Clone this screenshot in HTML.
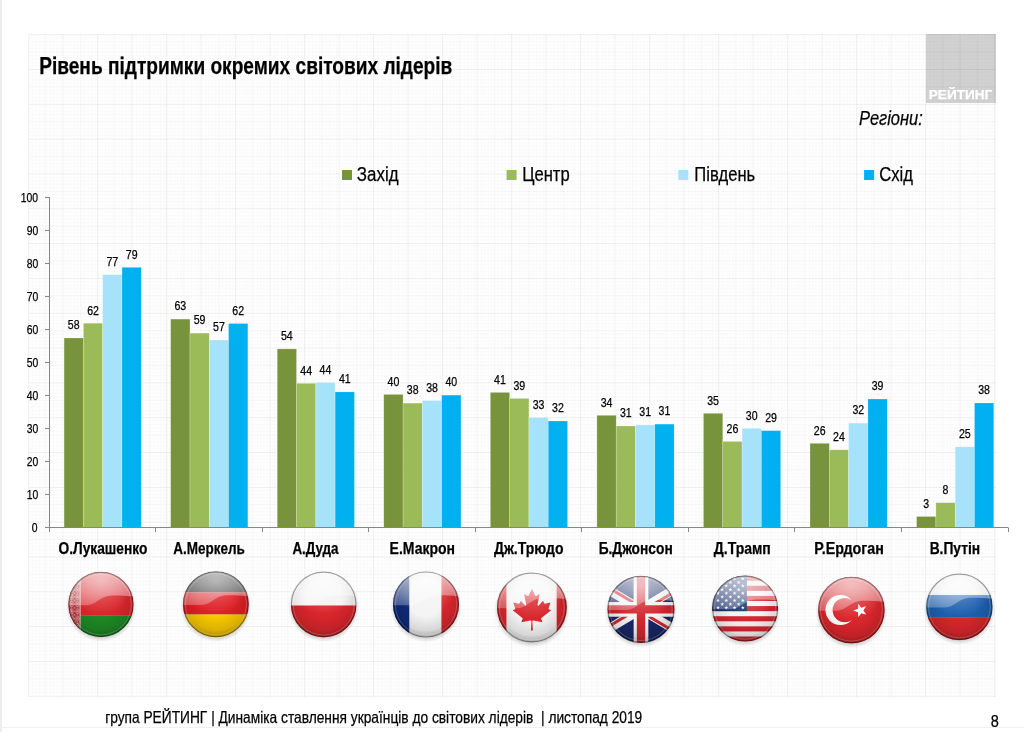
<!DOCTYPE html><html><head><meta charset="utf-8"><style>html,body{margin:0;padding:0;background:#fff;overflow:hidden}svg{display:block;will-change:transform}text{font-family:"Liberation Sans",sans-serif}</style></head><body>
<svg width="1024" height="732" viewBox="0 0 1024 732">
<defs><pattern id="gmin" width="3.45" height="3.482" patternUnits="userSpaceOnUse" x="29" y="34"><path d="M0 0.5H3.45M0.5 0V3.48" stroke="#000" stroke-opacity="0.018" stroke-width="1" fill="none"/></pattern></defs>
<rect x="0" y="0" width="2" height="732" fill="#eeeeee"/>
<rect x="926" y="34" width="70" height="69" fill="#d2d2d2"/>
<rect x="29" y="34" width="967" height="663" fill="url(#gmin)"/>
<path d="M28.50 34V697" stroke="#000" stroke-opacity="0.05"/><path d="M45.75 34V697" stroke="#000" stroke-opacity="0.026"/><path d="M63.00 34V697" stroke="#000" stroke-opacity="0.05"/><path d="M80.25 34V697" stroke="#000" stroke-opacity="0.026"/><path d="M97.50 34V697" stroke="#000" stroke-opacity="0.05"/><path d="M114.75 34V697" stroke="#000" stroke-opacity="0.026"/><path d="M132.00 34V697" stroke="#000" stroke-opacity="0.05"/><path d="M149.25 34V697" stroke="#000" stroke-opacity="0.026"/><path d="M166.50 34V697" stroke="#000" stroke-opacity="0.05"/><path d="M183.75 34V697" stroke="#000" stroke-opacity="0.026"/><path d="M201.00 34V697" stroke="#000" stroke-opacity="0.05"/><path d="M218.25 34V697" stroke="#000" stroke-opacity="0.026"/><path d="M235.50 34V697" stroke="#000" stroke-opacity="0.05"/><path d="M252.75 34V697" stroke="#000" stroke-opacity="0.026"/><path d="M270.00 34V697" stroke="#000" stroke-opacity="0.05"/><path d="M287.25 34V697" stroke="#000" stroke-opacity="0.026"/><path d="M304.50 34V697" stroke="#000" stroke-opacity="0.05"/><path d="M321.75 34V697" stroke="#000" stroke-opacity="0.026"/><path d="M339.00 34V697" stroke="#000" stroke-opacity="0.05"/><path d="M356.25 34V697" stroke="#000" stroke-opacity="0.026"/><path d="M373.50 34V697" stroke="#000" stroke-opacity="0.05"/><path d="M390.75 34V697" stroke="#000" stroke-opacity="0.026"/><path d="M408.00 34V697" stroke="#000" stroke-opacity="0.05"/><path d="M425.25 34V697" stroke="#000" stroke-opacity="0.026"/><path d="M442.50 34V697" stroke="#000" stroke-opacity="0.05"/><path d="M459.75 34V697" stroke="#000" stroke-opacity="0.026"/><path d="M477.00 34V697" stroke="#000" stroke-opacity="0.05"/><path d="M494.25 34V697" stroke="#000" stroke-opacity="0.026"/><path d="M511.50 34V697" stroke="#000" stroke-opacity="0.05"/><path d="M528.75 34V697" stroke="#000" stroke-opacity="0.026"/><path d="M546.00 34V697" stroke="#000" stroke-opacity="0.05"/><path d="M563.25 34V697" stroke="#000" stroke-opacity="0.026"/><path d="M580.50 34V697" stroke="#000" stroke-opacity="0.05"/><path d="M597.75 34V697" stroke="#000" stroke-opacity="0.026"/><path d="M615.00 34V697" stroke="#000" stroke-opacity="0.05"/><path d="M632.25 34V697" stroke="#000" stroke-opacity="0.026"/><path d="M649.50 34V697" stroke="#000" stroke-opacity="0.05"/><path d="M666.75 34V697" stroke="#000" stroke-opacity="0.026"/><path d="M684.00 34V697" stroke="#000" stroke-opacity="0.05"/><path d="M701.25 34V697" stroke="#000" stroke-opacity="0.026"/><path d="M718.50 34V697" stroke="#000" stroke-opacity="0.05"/><path d="M735.75 34V697" stroke="#000" stroke-opacity="0.026"/><path d="M753.00 34V697" stroke="#000" stroke-opacity="0.05"/><path d="M770.25 34V697" stroke="#000" stroke-opacity="0.026"/><path d="M787.50 34V697" stroke="#000" stroke-opacity="0.05"/><path d="M804.75 34V697" stroke="#000" stroke-opacity="0.026"/><path d="M822.00 34V697" stroke="#000" stroke-opacity="0.05"/><path d="M839.25 34V697" stroke="#000" stroke-opacity="0.026"/><path d="M856.50 34V697" stroke="#000" stroke-opacity="0.05"/><path d="M873.75 34V697" stroke="#000" stroke-opacity="0.026"/><path d="M891.00 34V697" stroke="#000" stroke-opacity="0.05"/><path d="M908.25 34V697" stroke="#000" stroke-opacity="0.026"/><path d="M925.50 34V697" stroke="#000" stroke-opacity="0.05"/><path d="M942.75 34V697" stroke="#000" stroke-opacity="0.026"/><path d="M960.00 34V697" stroke="#000" stroke-opacity="0.05"/><path d="M977.25 34V697" stroke="#000" stroke-opacity="0.026"/><path d="M994.50 34V697" stroke="#000" stroke-opacity="0.05"/><path d="M29 34.70H996" stroke="#000" stroke-opacity="0.055"/><path d="M29 52.11H996" stroke="#000" stroke-opacity="0.028"/><path d="M29 69.52H996" stroke="#000" stroke-opacity="0.055"/><path d="M29 86.93H996" stroke="#000" stroke-opacity="0.028"/><path d="M29 104.34H996" stroke="#000" stroke-opacity="0.055"/><path d="M29 121.75H996" stroke="#000" stroke-opacity="0.028"/><path d="M29 139.16H996" stroke="#000" stroke-opacity="0.055"/><path d="M29 156.57H996" stroke="#000" stroke-opacity="0.028"/><path d="M29 173.98H996" stroke="#000" stroke-opacity="0.055"/><path d="M29 191.39H996" stroke="#000" stroke-opacity="0.028"/><path d="M29 208.80H996" stroke="#000" stroke-opacity="0.055"/><path d="M29 226.21H996" stroke="#000" stroke-opacity="0.028"/><path d="M29 243.62H996" stroke="#000" stroke-opacity="0.055"/><path d="M29 261.03H996" stroke="#000" stroke-opacity="0.028"/><path d="M29 278.44H996" stroke="#000" stroke-opacity="0.055"/><path d="M29 295.85H996" stroke="#000" stroke-opacity="0.028"/><path d="M29 313.26H996" stroke="#000" stroke-opacity="0.055"/><path d="M29 330.67H996" stroke="#000" stroke-opacity="0.028"/><path d="M29 348.08H996" stroke="#000" stroke-opacity="0.055"/><path d="M29 365.49H996" stroke="#000" stroke-opacity="0.028"/><path d="M29 382.90H996" stroke="#000" stroke-opacity="0.055"/><path d="M29 400.31H996" stroke="#000" stroke-opacity="0.028"/><path d="M29 417.72H996" stroke="#000" stroke-opacity="0.055"/><path d="M29 435.13H996" stroke="#000" stroke-opacity="0.028"/><path d="M29 452.54H996" stroke="#000" stroke-opacity="0.055"/><path d="M29 469.95H996" stroke="#000" stroke-opacity="0.028"/><path d="M29 487.36H996" stroke="#000" stroke-opacity="0.055"/><path d="M29 504.77H996" stroke="#000" stroke-opacity="0.028"/><path d="M29 522.18H996" stroke="#000" stroke-opacity="0.055"/><path d="M29 539.59H996" stroke="#000" stroke-opacity="0.028"/><path d="M29 557.00H996" stroke="#000" stroke-opacity="0.055"/><path d="M29 574.41H996" stroke="#000" stroke-opacity="0.028"/><path d="M29 591.82H996" stroke="#000" stroke-opacity="0.055"/><path d="M29 609.23H996" stroke="#000" stroke-opacity="0.028"/><path d="M29 626.64H996" stroke="#000" stroke-opacity="0.055"/><path d="M29 644.05H996" stroke="#000" stroke-opacity="0.028"/><path d="M29 661.46H996" stroke="#000" stroke-opacity="0.055"/><path d="M29 678.87H996" stroke="#000" stroke-opacity="0.028"/><path d="M29 696.28H996" stroke="#000" stroke-opacity="0.055"/>
<rect x="342" y="170" width="10" height="10" fill="#77933c"/>
<rect x="506.6" y="170" width="10" height="10" fill="#9bbb59"/>
<rect x="678.3" y="170" width="10" height="10" fill="#a6e3fa"/>
<rect x="864.1" y="170" width="10" height="10" fill="#00b0f0"/>
<path d="M49.5 197V527.5" stroke="#868686" fill="none"/>
<path d="M45 527.5H49.5" stroke="#868686"/>
<path d="M45 494.5H49.5" stroke="#868686"/>
<path d="M45 461.5H49.5" stroke="#868686"/>
<path d="M45 428.5H49.5" stroke="#868686"/>
<path d="M45 395.5H49.5" stroke="#868686"/>
<path d="M45 362.5H49.5" stroke="#868686"/>
<path d="M45 329.5H49.5" stroke="#868686"/>
<path d="M45 296.5H49.5" stroke="#868686"/>
<path d="M45 263.5H49.5" stroke="#868686"/>
<path d="M45 230.5H49.5" stroke="#868686"/>
<path d="M45 197.5H49.5" stroke="#868686"/>
<rect x="64.10" y="338.00" width="19.3" height="189.30" fill="#77933c" stroke="#fff" stroke-opacity="0.35" stroke-width="0.6"/>
<rect x="83.40" y="323.20" width="19.3" height="204.10" fill="#9bbb59" stroke="#fff" stroke-opacity="0.35" stroke-width="0.6"/>
<rect x="102.70" y="274.70" width="19.3" height="252.60" fill="#a6e3fa" stroke="#fff" stroke-opacity="0.35" stroke-width="0.6"/>
<rect x="122.00" y="267.30" width="19.3" height="260.00" fill="#00b0f0" stroke="#fff" stroke-opacity="0.35" stroke-width="0.6"/>
<rect x="170.66" y="319.10" width="19.3" height="208.20" fill="#77933c" stroke="#fff" stroke-opacity="0.35" stroke-width="0.6"/>
<rect x="189.96" y="333.10" width="19.3" height="194.20" fill="#9bbb59" stroke="#fff" stroke-opacity="0.35" stroke-width="0.6"/>
<rect x="209.26" y="340.00" width="19.3" height="187.30" fill="#a6e3fa" stroke="#fff" stroke-opacity="0.35" stroke-width="0.6"/>
<rect x="228.56" y="323.50" width="19.3" height="203.80" fill="#00b0f0" stroke="#fff" stroke-opacity="0.35" stroke-width="0.6"/>
<rect x="277.22" y="348.90" width="19.3" height="178.40" fill="#77933c" stroke="#fff" stroke-opacity="0.35" stroke-width="0.6"/>
<rect x="296.52" y="383.30" width="19.3" height="144.00" fill="#9bbb59" stroke="#fff" stroke-opacity="0.35" stroke-width="0.6"/>
<rect x="315.82" y="382.50" width="19.3" height="144.80" fill="#a6e3fa" stroke="#fff" stroke-opacity="0.35" stroke-width="0.6"/>
<rect x="335.12" y="391.90" width="19.3" height="135.40" fill="#00b0f0" stroke="#fff" stroke-opacity="0.35" stroke-width="0.6"/>
<rect x="383.78" y="394.40" width="19.3" height="132.90" fill="#77933c" stroke="#fff" stroke-opacity="0.35" stroke-width="0.6"/>
<rect x="403.08" y="403.10" width="19.3" height="124.20" fill="#9bbb59" stroke="#fff" stroke-opacity="0.35" stroke-width="0.6"/>
<rect x="422.38" y="400.60" width="19.3" height="126.70" fill="#a6e3fa" stroke="#fff" stroke-opacity="0.35" stroke-width="0.6"/>
<rect x="441.68" y="395.10" width="19.3" height="132.20" fill="#00b0f0" stroke="#fff" stroke-opacity="0.35" stroke-width="0.6"/>
<rect x="490.34" y="392.40" width="19.3" height="134.90" fill="#77933c" stroke="#fff" stroke-opacity="0.35" stroke-width="0.6"/>
<rect x="509.64" y="398.40" width="19.3" height="128.90" fill="#9bbb59" stroke="#fff" stroke-opacity="0.35" stroke-width="0.6"/>
<rect x="528.94" y="417.50" width="19.3" height="109.80" fill="#a6e3fa" stroke="#fff" stroke-opacity="0.35" stroke-width="0.6"/>
<rect x="548.24" y="421.00" width="19.3" height="106.30" fill="#00b0f0" stroke="#fff" stroke-opacity="0.35" stroke-width="0.6"/>
<rect x="596.90" y="415.30" width="19.3" height="112.00" fill="#77933c" stroke="#fff" stroke-opacity="0.35" stroke-width="0.6"/>
<rect x="616.20" y="426.00" width="19.3" height="101.30" fill="#9bbb59" stroke="#fff" stroke-opacity="0.35" stroke-width="0.6"/>
<rect x="635.50" y="425.00" width="19.3" height="102.30" fill="#a6e3fa" stroke="#fff" stroke-opacity="0.35" stroke-width="0.6"/>
<rect x="654.80" y="424.10" width="19.3" height="103.20" fill="#00b0f0" stroke="#fff" stroke-opacity="0.35" stroke-width="0.6"/>
<rect x="703.46" y="413.30" width="19.3" height="114.00" fill="#77933c" stroke="#fff" stroke-opacity="0.35" stroke-width="0.6"/>
<rect x="722.76" y="441.40" width="19.3" height="85.90" fill="#9bbb59" stroke="#fff" stroke-opacity="0.35" stroke-width="0.6"/>
<rect x="742.06" y="428.20" width="19.3" height="99.10" fill="#a6e3fa" stroke="#fff" stroke-opacity="0.35" stroke-width="0.6"/>
<rect x="761.36" y="430.60" width="19.3" height="96.70" fill="#00b0f0" stroke="#fff" stroke-opacity="0.35" stroke-width="0.6"/>
<rect x="810.02" y="443.30" width="19.3" height="84.00" fill="#77933c" stroke="#fff" stroke-opacity="0.35" stroke-width="0.6"/>
<rect x="829.32" y="449.80" width="19.3" height="77.50" fill="#9bbb59" stroke="#fff" stroke-opacity="0.35" stroke-width="0.6"/>
<rect x="848.62" y="423.10" width="19.3" height="104.20" fill="#a6e3fa" stroke="#fff" stroke-opacity="0.35" stroke-width="0.6"/>
<rect x="867.92" y="399.00" width="19.3" height="128.30" fill="#00b0f0" stroke="#fff" stroke-opacity="0.35" stroke-width="0.6"/>
<rect x="916.58" y="516.50" width="19.3" height="10.80" fill="#77933c" stroke="#fff" stroke-opacity="0.35" stroke-width="0.6"/>
<rect x="935.88" y="502.70" width="19.3" height="24.60" fill="#9bbb59" stroke="#fff" stroke-opacity="0.35" stroke-width="0.6"/>
<rect x="955.18" y="446.80" width="19.3" height="80.50" fill="#a6e3fa" stroke="#fff" stroke-opacity="0.35" stroke-width="0.6"/>
<rect x="974.48" y="403.00" width="19.3" height="124.30" fill="#00b0f0" stroke="#fff" stroke-opacity="0.35" stroke-width="0.6"/>
<path d="M49 527.5H1008" stroke="#868686"/>
<path d="M49.5 527.5V532" stroke="#868686"/>
<path d="M155.5 527.5V532" stroke="#868686"/>
<path d="M262.5 527.5V532" stroke="#868686"/>
<path d="M368.5 527.5V532" stroke="#868686"/>
<path d="M475.5 527.5V532" stroke="#868686"/>
<path d="M581.5 527.5V532" stroke="#868686"/>
<path d="M688.5 527.5V532" stroke="#868686"/>
<path d="M794.5 527.5V532" stroke="#868686"/>
<path d="M901.5 527.5V532" stroke="#868686"/>
<path d="M1008.5 527.5V532" stroke="#868686"/>
<text x="39.18" y="73.70" font-size="23.2" font-weight="bold" fill="#000" stroke="#000" stroke-width="0.25" textLength="413.17" lengthAdjust="spacingAndGlyphs" xml:space="preserve">Рівень підтримки окремих світових лідерів</text>
<text x="928.78" y="98.70" font-size="13.4" font-weight="bold" fill="#fff" stroke="#fff" stroke-width="0.25" textLength="63.57" lengthAdjust="spacingAndGlyphs" xml:space="preserve">РЕЙТИНГ</text>
<text x="859.10" y="125.40" font-size="20.2" font-style="italic" fill="#000" stroke="#000" stroke-width="0.25" textLength="63.78" lengthAdjust="spacingAndGlyphs" xml:space="preserve">Регіони:</text>
<text x="356.85" y="181.30" font-size="20" fill="#000" stroke="#000" stroke-width="0.25" textLength="41.72" lengthAdjust="spacingAndGlyphs" xml:space="preserve">Захід</text>
<text x="522.17" y="181.30" font-size="20" fill="#000" stroke="#000" stroke-width="0.25" textLength="47.54" lengthAdjust="spacingAndGlyphs" xml:space="preserve">Центр</text>
<text x="694.37" y="181.30" font-size="20" fill="#000" stroke="#000" stroke-width="0.25" textLength="60.83" lengthAdjust="spacingAndGlyphs" xml:space="preserve">Південь</text>
<text x="879.17" y="181.30" font-size="20" fill="#000" stroke="#000" stroke-width="0.25" textLength="33.77" lengthAdjust="spacingAndGlyphs" xml:space="preserve">Схід</text>
<text x="105.17" y="722.90" font-size="16.5" fill="#000" stroke="#000" stroke-width="0.25" textLength="537.09" lengthAdjust="spacingAndGlyphs" xml:space="preserve">група РЕЙТИНГ | Динаміка ставлення українців до світових лідерів  | листопад 2019</text>
<text x="990.76" y="726.80" font-size="17.3" fill="#000" stroke="#000" stroke-width="0.25" textLength="8.06" lengthAdjust="spacingAndGlyphs" xml:space="preserve">8</text>
<text x="37.51" y="531.50" font-size="12.2" text-anchor="end" fill="#000" stroke="#000" stroke-width="0.25" textLength="5.76" lengthAdjust="spacingAndGlyphs" xml:space="preserve">0</text>
<text x="38.18" y="498.54" font-size="12.2" text-anchor="end" fill="#000" stroke="#000" stroke-width="0.25" textLength="11.53" lengthAdjust="spacingAndGlyphs" xml:space="preserve">10</text>
<text x="38.18" y="465.58" font-size="12.2" text-anchor="end" fill="#000" stroke="#000" stroke-width="0.25" textLength="11.53" lengthAdjust="spacingAndGlyphs" xml:space="preserve">20</text>
<text x="38.18" y="432.62" font-size="12.2" text-anchor="end" fill="#000" stroke="#000" stroke-width="0.25" textLength="11.53" lengthAdjust="spacingAndGlyphs" xml:space="preserve">30</text>
<text x="38.18" y="399.66" font-size="12.2" text-anchor="end" fill="#000" stroke="#000" stroke-width="0.25" textLength="11.53" lengthAdjust="spacingAndGlyphs" xml:space="preserve">40</text>
<text x="38.18" y="366.70" font-size="12.2" text-anchor="end" fill="#000" stroke="#000" stroke-width="0.25" textLength="11.53" lengthAdjust="spacingAndGlyphs" xml:space="preserve">50</text>
<text x="38.18" y="333.74" font-size="12.2" text-anchor="end" fill="#000" stroke="#000" stroke-width="0.25" textLength="11.53" lengthAdjust="spacingAndGlyphs" xml:space="preserve">60</text>
<text x="38.18" y="300.78" font-size="12.2" text-anchor="end" fill="#000" stroke="#000" stroke-width="0.25" textLength="11.53" lengthAdjust="spacingAndGlyphs" xml:space="preserve">70</text>
<text x="38.18" y="267.82" font-size="12.2" text-anchor="end" fill="#000" stroke="#000" stroke-width="0.25" textLength="11.53" lengthAdjust="spacingAndGlyphs" xml:space="preserve">80</text>
<text x="38.18" y="234.86" font-size="12.2" text-anchor="end" fill="#000" stroke="#000" stroke-width="0.25" textLength="11.53" lengthAdjust="spacingAndGlyphs" xml:space="preserve">90</text>
<text x="37.99" y="201.90" font-size="12.2" text-anchor="end" fill="#000" stroke="#000" stroke-width="0.25" textLength="17.29" lengthAdjust="spacingAndGlyphs" xml:space="preserve">100</text>
<text x="73.75" y="329.30" font-size="12.3" text-anchor="middle" fill="#000" stroke="#000" stroke-width="0.25" textLength="11.77" lengthAdjust="spacingAndGlyphs" xml:space="preserve">58</text>
<text x="93.05" y="314.50" font-size="12.3" text-anchor="middle" fill="#000" stroke="#000" stroke-width="0.25" textLength="11.77" lengthAdjust="spacingAndGlyphs" xml:space="preserve">62</text>
<text x="112.35" y="266.00" font-size="12.3" text-anchor="middle" fill="#000" stroke="#000" stroke-width="0.25" textLength="11.77" lengthAdjust="spacingAndGlyphs" xml:space="preserve">77</text>
<text x="131.65" y="258.60" font-size="12.3" text-anchor="middle" fill="#000" stroke="#000" stroke-width="0.25" textLength="11.77" lengthAdjust="spacingAndGlyphs" xml:space="preserve">79</text>
<text x="180.31" y="310.40" font-size="12.3" text-anchor="middle" fill="#000" stroke="#000" stroke-width="0.25" textLength="11.77" lengthAdjust="spacingAndGlyphs" xml:space="preserve">63</text>
<text x="199.61" y="324.40" font-size="12.3" text-anchor="middle" fill="#000" stroke="#000" stroke-width="0.25" textLength="11.77" lengthAdjust="spacingAndGlyphs" xml:space="preserve">59</text>
<text x="218.91" y="331.30" font-size="12.3" text-anchor="middle" fill="#000" stroke="#000" stroke-width="0.25" textLength="11.77" lengthAdjust="spacingAndGlyphs" xml:space="preserve">57</text>
<text x="238.21" y="314.80" font-size="12.3" text-anchor="middle" fill="#000" stroke="#000" stroke-width="0.25" textLength="11.77" lengthAdjust="spacingAndGlyphs" xml:space="preserve">62</text>
<text x="286.87" y="340.20" font-size="12.3" text-anchor="middle" fill="#000" stroke="#000" stroke-width="0.25" textLength="11.77" lengthAdjust="spacingAndGlyphs" xml:space="preserve">54</text>
<text x="306.17" y="374.60" font-size="12.3" text-anchor="middle" fill="#000" stroke="#000" stroke-width="0.25" textLength="11.77" lengthAdjust="spacingAndGlyphs" xml:space="preserve">44</text>
<text x="325.47" y="373.80" font-size="12.3" text-anchor="middle" fill="#000" stroke="#000" stroke-width="0.25" textLength="11.77" lengthAdjust="spacingAndGlyphs" xml:space="preserve">44</text>
<text x="344.77" y="383.20" font-size="12.3" text-anchor="middle" fill="#000" stroke="#000" stroke-width="0.25" textLength="11.77" lengthAdjust="spacingAndGlyphs" xml:space="preserve">41</text>
<text x="393.43" y="385.70" font-size="12.3" text-anchor="middle" fill="#000" stroke="#000" stroke-width="0.25" textLength="11.77" lengthAdjust="spacingAndGlyphs" xml:space="preserve">40</text>
<text x="412.73" y="394.40" font-size="12.3" text-anchor="middle" fill="#000" stroke="#000" stroke-width="0.25" textLength="11.77" lengthAdjust="spacingAndGlyphs" xml:space="preserve">38</text>
<text x="432.03" y="391.90" font-size="12.3" text-anchor="middle" fill="#000" stroke="#000" stroke-width="0.25" textLength="11.77" lengthAdjust="spacingAndGlyphs" xml:space="preserve">38</text>
<text x="451.33" y="386.40" font-size="12.3" text-anchor="middle" fill="#000" stroke="#000" stroke-width="0.25" textLength="11.77" lengthAdjust="spacingAndGlyphs" xml:space="preserve">40</text>
<text x="499.99" y="383.70" font-size="12.3" text-anchor="middle" fill="#000" stroke="#000" stroke-width="0.25" textLength="11.77" lengthAdjust="spacingAndGlyphs" xml:space="preserve">41</text>
<text x="519.29" y="389.70" font-size="12.3" text-anchor="middle" fill="#000" stroke="#000" stroke-width="0.25" textLength="11.77" lengthAdjust="spacingAndGlyphs" xml:space="preserve">39</text>
<text x="538.59" y="408.80" font-size="12.3" text-anchor="middle" fill="#000" stroke="#000" stroke-width="0.25" textLength="11.77" lengthAdjust="spacingAndGlyphs" xml:space="preserve">33</text>
<text x="557.89" y="412.30" font-size="12.3" text-anchor="middle" fill="#000" stroke="#000" stroke-width="0.25" textLength="11.77" lengthAdjust="spacingAndGlyphs" xml:space="preserve">32</text>
<text x="606.55" y="406.60" font-size="12.3" text-anchor="middle" fill="#000" stroke="#000" stroke-width="0.25" textLength="11.77" lengthAdjust="spacingAndGlyphs" xml:space="preserve">34</text>
<text x="625.85" y="417.30" font-size="12.3" text-anchor="middle" fill="#000" stroke="#000" stroke-width="0.25" textLength="11.77" lengthAdjust="spacingAndGlyphs" xml:space="preserve">31</text>
<text x="645.15" y="416.30" font-size="12.3" text-anchor="middle" fill="#000" stroke="#000" stroke-width="0.25" textLength="11.77" lengthAdjust="spacingAndGlyphs" xml:space="preserve">31</text>
<text x="664.45" y="415.40" font-size="12.3" text-anchor="middle" fill="#000" stroke="#000" stroke-width="0.25" textLength="11.77" lengthAdjust="spacingAndGlyphs" xml:space="preserve">31</text>
<text x="713.11" y="404.60" font-size="12.3" text-anchor="middle" fill="#000" stroke="#000" stroke-width="0.25" textLength="11.77" lengthAdjust="spacingAndGlyphs" xml:space="preserve">35</text>
<text x="732.41" y="432.70" font-size="12.3" text-anchor="middle" fill="#000" stroke="#000" stroke-width="0.25" textLength="11.77" lengthAdjust="spacingAndGlyphs" xml:space="preserve">26</text>
<text x="751.71" y="419.50" font-size="12.3" text-anchor="middle" fill="#000" stroke="#000" stroke-width="0.25" textLength="11.77" lengthAdjust="spacingAndGlyphs" xml:space="preserve">30</text>
<text x="771.01" y="421.90" font-size="12.3" text-anchor="middle" fill="#000" stroke="#000" stroke-width="0.25" textLength="11.77" lengthAdjust="spacingAndGlyphs" xml:space="preserve">29</text>
<text x="819.67" y="434.60" font-size="12.3" text-anchor="middle" fill="#000" stroke="#000" stroke-width="0.25" textLength="11.77" lengthAdjust="spacingAndGlyphs" xml:space="preserve">26</text>
<text x="838.97" y="441.10" font-size="12.3" text-anchor="middle" fill="#000" stroke="#000" stroke-width="0.25" textLength="11.77" lengthAdjust="spacingAndGlyphs" xml:space="preserve">24</text>
<text x="858.27" y="414.40" font-size="12.3" text-anchor="middle" fill="#000" stroke="#000" stroke-width="0.25" textLength="11.77" lengthAdjust="spacingAndGlyphs" xml:space="preserve">32</text>
<text x="877.57" y="390.30" font-size="12.3" text-anchor="middle" fill="#000" stroke="#000" stroke-width="0.25" textLength="11.77" lengthAdjust="spacingAndGlyphs" xml:space="preserve">39</text>
<text x="926.23" y="507.80" font-size="12.3" text-anchor="middle" fill="#000" stroke="#000" stroke-width="0.25" textLength="5.89" lengthAdjust="spacingAndGlyphs" xml:space="preserve">3</text>
<text x="945.53" y="494.00" font-size="12.3" text-anchor="middle" fill="#000" stroke="#000" stroke-width="0.25" textLength="5.89" lengthAdjust="spacingAndGlyphs" xml:space="preserve">8</text>
<text x="964.83" y="438.10" font-size="12.3" text-anchor="middle" fill="#000" stroke="#000" stroke-width="0.25" textLength="11.77" lengthAdjust="spacingAndGlyphs" xml:space="preserve">25</text>
<text x="984.13" y="394.30" font-size="12.3" text-anchor="middle" fill="#000" stroke="#000" stroke-width="0.25" textLength="11.77" lengthAdjust="spacingAndGlyphs" xml:space="preserve">38</text>
<text x="58.50" y="553.90" font-size="16.0" font-weight="bold" fill="#000" stroke="#000" stroke-width="0.25" textLength="88.84" lengthAdjust="spacingAndGlyphs" xml:space="preserve">О.Лукашенко</text>
<text x="173.30" y="553.90" font-size="16.0" font-weight="bold" fill="#000" stroke="#000" stroke-width="0.25" textLength="71.62" lengthAdjust="spacingAndGlyphs" xml:space="preserve">А.Меркель</text>
<text x="292.40" y="553.90" font-size="16.0" font-weight="bold" fill="#000" stroke="#000" stroke-width="0.25" textLength="46.19" lengthAdjust="spacingAndGlyphs" xml:space="preserve">А.Дуда</text>
<text x="389.62" y="553.90" font-size="16.0" font-weight="bold" fill="#000" stroke="#000" stroke-width="0.25" textLength="65.45" lengthAdjust="spacingAndGlyphs" xml:space="preserve">Е.Макрон</text>
<text x="494.00" y="553.90" font-size="16.0" font-weight="bold" fill="#000" stroke="#000" stroke-width="0.25" textLength="69.45" lengthAdjust="spacingAndGlyphs" xml:space="preserve">Дж.Трюдо</text>
<text x="598.64" y="553.90" font-size="16.0" font-weight="bold" fill="#000" stroke="#000" stroke-width="0.25" textLength="74.08" lengthAdjust="spacingAndGlyphs" xml:space="preserve">Б.Джонсон</text>
<text x="713.80" y="553.90" font-size="16.0" font-weight="bold" fill="#000" stroke="#000" stroke-width="0.25" textLength="57.04" lengthAdjust="spacingAndGlyphs" xml:space="preserve">Д.Трамп</text>
<text x="814.31" y="553.90" font-size="16.0" font-weight="bold" fill="#000" stroke="#000" stroke-width="0.25" textLength="69.51" lengthAdjust="spacingAndGlyphs" xml:space="preserve">Р.Ердоган</text>
<text x="929.64" y="553.90" font-size="16.0" font-weight="bold" fill="#000" stroke="#000" stroke-width="0.25" textLength="50.54" lengthAdjust="spacingAndGlyphs" xml:space="preserve">В.Путін</text>
<rect x="0" y="727" width="1024" height="1" fill="#f0f0f0"/>
<defs><clipPath id="cu" clipPathUnits="userSpaceOnUse"><circle cx="0" cy="0" r="1"/></clipPath><pattern id="byorn" width="0.18" height="0.22" patternUnits="userSpaceOnUse" x="-0.99" y="-1"><path d="M0.09 0.015L0.165 0.11L0.09 0.205L0.015 0.11Z" fill="none" stroke="#fff" stroke-opacity="0.9" stroke-width="0.022"/><path d="M0.09 0.07L0.12 0.11L0.09 0.15L0.06 0.11Z" fill="#fff" fill-opacity="0.9"/><path d="M0 0L0.03 0.04M0.18 0L0.15 0.04M0 0.22L0.03 0.18M0.18 0.22L0.15 0.18" stroke="#fff" stroke-opacity="0.8" stroke-width="0.02"/></pattern><linearGradient id="gl" x1="0" y1="0" x2="0" y2="1"><stop offset="0" stop-color="#fff" stop-opacity="0.62"/><stop offset="1" stop-color="#fff" stop-opacity="0.26"/></linearGradient><radialGradient id="sh" cx="0.5" cy="0.4" r="0.62"><stop offset="0.45" stop-color="#000" stop-opacity="0"/><stop offset="0.8" stop-color="#000" stop-opacity="0.12"/><stop offset="1" stop-color="#000" stop-opacity="0.35"/></radialGradient><radialGradient id="hl" cx="0.5" cy="0.15" r="0.5"><stop offset="0" stop-color="#fff" stop-opacity="0.35"/><stop offset="1" stop-color="#fff" stop-opacity="0"/></radialGradient><radialGradient id="ds" cx="0.5" cy="0.5" r="0.5"><stop offset="0.86" stop-color="#000" stop-opacity="0.18"/><stop offset="1" stop-color="#000" stop-opacity="0"/></radialGradient></defs><g transform="translate(101,604.5) scale(32.6)"><circle cx="0" cy="0.06" r="1.08" fill="url(#ds)"/><g clip-path="url(#cu)"><rect x="-1" y="-1" width="2" height="1.330" fill="#d9262c"/><rect x="-1" y="0.330" width="2" height="1" fill="#1f8a25"/><rect x="-1" y="-1" width="0.365" height="2" fill="#b81820"/><rect x="-1" y="-1" width="0.365" height="2" fill="url(#byorn)"/><rect x="-0.655" y="-1" width="0.03" height="2" fill="#fff" opacity="0.7"/><circle cx="0" cy="0" r="1" fill="url(#sh)"/><circle cx="0" cy="0" r="1" fill="url(#hl)"/><path d="M-1 -1H1V-0.25C0.6 -0.27 0.45 -0.29 0.25 -0.27C-0.05 -0.24 -0.15 0.02 -0.45 0.02H-1Z" fill="url(#gl)"/></g><circle cx="0" cy="0" r="0.985" fill="none" stroke="#000" stroke-opacity="0.35" stroke-width="0.035"/><circle cx="0" cy="0" r="0.93" fill="none" stroke="#fff" stroke-opacity="0.2" stroke-width="0.03"/></g><g transform="translate(215.9,604.3) scale(32.9)"><circle cx="0" cy="0.06" r="1.08" fill="url(#ds)"/><g clip-path="url(#cu)"><rect x="-1" y="-1" width="2" height="0.640" fill="#1a1a1a"/><rect x="-1" y="-0.36" width="2" height="0.670" fill="#dd1f26"/><rect x="-1" y="0.31" width="2" height="1" fill="#f9c800"/><circle cx="0" cy="0" r="1" fill="url(#sh)"/><circle cx="0" cy="0" r="1" fill="url(#hl)"/><path d="M-1 -1H1V-0.25C0.6 -0.27 0.45 -0.29 0.25 -0.27C-0.05 -0.24 -0.15 0.02 -0.45 0.02H-1Z" fill="url(#gl)"/></g><circle cx="0" cy="0" r="0.985" fill="none" stroke="#000" stroke-opacity="0.35" stroke-width="0.035"/><circle cx="0" cy="0" r="0.93" fill="none" stroke="#fff" stroke-opacity="0.2" stroke-width="0.03"/></g><g transform="translate(323.7,604.5) scale(32.8)"><circle cx="0" cy="0.06" r="1.08" fill="url(#ds)"/><g clip-path="url(#cu)"><rect x="-1" y="-1" width="2" height="1.2" fill="#f3f3f3"/><rect x="-1" y="0.03" width="2" height="1.1" fill="#d9262c"/><circle cx="0" cy="0" r="1" fill="url(#sh)"/><circle cx="0" cy="0" r="1" fill="url(#hl)"/><path d="M-1 -1H1V-0.25C0.6 -0.27 0.45 -0.29 0.25 -0.27C-0.05 -0.24 -0.15 0.02 -0.45 0.02H-1Z" fill="url(#gl)"/></g><circle cx="0" cy="0" r="0.985" fill="none" stroke="#000" stroke-opacity="0.35" stroke-width="0.035"/><circle cx="0" cy="0" r="0.93" fill="none" stroke="#fff" stroke-opacity="0.2" stroke-width="0.03"/></g><g transform="translate(426,604.5) scale(33)"><circle cx="0" cy="0.06" r="1.08" fill="url(#ds)"/><g clip-path="url(#cu)"><rect x="-1" y="-1" width="0.5" height="2" fill="#0e2a78"/><rect x="-0.5" y="-1" width="0.97" height="2" fill="#f4f4f4"/><rect x="0.47" y="-1" width="0.6" height="2" fill="#d9262c"/><circle cx="0" cy="0" r="1" fill="url(#sh)"/><circle cx="0" cy="0" r="1" fill="url(#hl)"/><path d="M-1 -1H1V-0.25C0.6 -0.27 0.45 -0.29 0.25 -0.27C-0.05 -0.24 -0.15 0.02 -0.45 0.02H-1Z" fill="url(#gl)"/></g><circle cx="0" cy="0" r="0.985" fill="none" stroke="#000" stroke-opacity="0.35" stroke-width="0.035"/><circle cx="0" cy="0" r="0.93" fill="none" stroke="#fff" stroke-opacity="0.2" stroke-width="0.03"/></g><g transform="translate(531.9,607.6) scale(34.9)"><circle cx="0" cy="0.06" r="1.08" fill="url(#ds)"/><g clip-path="url(#cu)"><rect x="-1" y="-1" width="2" height="2" fill="#f4f4f4"/><rect x="-1" y="-1" width="0.27" height="2" fill="#d9262c"/><rect x="0.71" y="-1" width="0.3" height="2" fill="#d9262c"/><path transform="translate(0 0.056) scale(0.000296)" d="m-90 2030 45-863a95 95 0 0 0-111-98l-859 151 116-320a65 65 0 0 0-20-73l-941-762 212-99a65 65 0 0 0 34-79l-186-572 542 115a65 65 0 0 0 73-38l105-247 423 454a65 65 0 0 0 111-57l-204-1052 327 189a65 65 0 0 0 91-27l332-652 332 652a65 65 0 0 0 91 27l327-189-204 1052a65 65 0 0 0 111 57l423-454 105 247a65 65 0 0 0 73 38l542-115-186 572a65 65 0 0 0 34 79l212 99-941 762a65 65 0 0 0-20 73l116 320-859-151a95 95 0 0 0-111 98l45 863z" fill="#d9262c"/><circle cx="0" cy="0" r="1" fill="url(#sh)"/><circle cx="0" cy="0" r="1" fill="url(#hl)"/><path d="M-1 -1H1V-0.25C0.6 -0.27 0.45 -0.29 0.25 -0.27C-0.05 -0.24 -0.15 0.02 -0.45 0.02H-1Z" fill="url(#gl)"/></g><circle cx="0" cy="0" r="0.985" fill="none" stroke="#000" stroke-opacity="0.35" stroke-width="0.035"/><circle cx="0" cy="0" r="0.93" fill="none" stroke="#fff" stroke-opacity="0.2" stroke-width="0.03"/></g><g transform="translate(641,609.4) scale(33.5)"><circle cx="0" cy="0.06" r="1.08" fill="url(#ds)"/><g clip-path="url(#cu)"><rect x="-1" y="-1" width="2" height="2" fill="#182766"/><path d="M-1.67 -1L1.67 1M1.67 -1L-1.67 1" stroke="#f4f4f4" stroke-width="0.27"/><path d="M-1.67 -1.07L0 -0.07M0 0.07L1.67 1.07M1.67 -0.93L0 0.07M0 -0.07L-1.67 0.93" stroke="#d22730" stroke-width="0.09"/><path d="M0 -1V1M-1 0H1" stroke="#f4f4f4" stroke-width="0.44"/><path d="M0 -1V1M-1 0H1" stroke="#d22730" stroke-width="0.25"/><circle cx="0" cy="0" r="1" fill="url(#sh)"/><circle cx="0" cy="0" r="1" fill="url(#hl)"/><path d="M-1 -1H1V-0.25C0.6 -0.27 0.45 -0.29 0.25 -0.27C-0.05 -0.24 -0.15 0.02 -0.45 0.02H-1Z" fill="url(#gl)"/></g><circle cx="0" cy="0" r="0.985" fill="none" stroke="#000" stroke-opacity="0.35" stroke-width="0.035"/><circle cx="0" cy="0" r="0.93" fill="none" stroke="#fff" stroke-opacity="0.2" stroke-width="0.03"/></g><g transform="translate(745.1,608.6) scale(33)"><circle cx="0" cy="0.06" r="1.08" fill="url(#ds)"/><g clip-path="url(#cu)"><rect x="-1" y="-1" width="2" height="2" fill="#f4f4f4"/><rect x="-1" y="-1.000" width="2" height="0.154" fill="#d22730"/><rect x="-1" y="-0.692" width="2" height="0.154" fill="#d22730"/><rect x="-1" y="-0.385" width="2" height="0.154" fill="#d22730"/><rect x="-1" y="-0.077" width="2" height="0.154" fill="#d22730"/><rect x="-1" y="0.231" width="2" height="0.154" fill="#d22730"/><rect x="-1" y="0.538" width="2" height="0.154" fill="#d22730"/><rect x="-1" y="0.846" width="2" height="0.154" fill="#d22730"/><rect x="-1" y="-1" width="1.055" height="1.077" fill="#1d326e"/><path d="M-0.820,-0.963 L-0.806,-0.925 L-0.765,-0.923 L-0.797,-0.897 L-0.786,-0.858 L-0.820,-0.881 L-0.854,-0.858 L-0.843,-0.897 L-0.875,-0.923 L-0.834,-0.925Z" fill="#fff"/><path d="M-0.570,-0.963 L-0.556,-0.925 L-0.515,-0.923 L-0.547,-0.897 L-0.536,-0.858 L-0.570,-0.881 L-0.604,-0.858 L-0.593,-0.897 L-0.625,-0.923 L-0.584,-0.925Z" fill="#fff"/><path d="M-0.320,-0.963 L-0.306,-0.925 L-0.265,-0.923 L-0.297,-0.897 L-0.286,-0.858 L-0.320,-0.881 L-0.354,-0.858 L-0.343,-0.897 L-0.375,-0.923 L-0.334,-0.925Z" fill="#fff"/><path d="M-0.070,-0.963 L-0.056,-0.925 L-0.015,-0.923 L-0.047,-0.897 L-0.036,-0.858 L-0.070,-0.881 L-0.104,-0.858 L-0.093,-0.897 L-0.125,-0.923 L-0.084,-0.925Z" fill="#fff"/><path d="M-0.695,-0.853 L-0.681,-0.815 L-0.640,-0.813 L-0.672,-0.787 L-0.661,-0.748 L-0.695,-0.771 L-0.729,-0.748 L-0.718,-0.787 L-0.750,-0.813 L-0.709,-0.815Z" fill="#fff"/><path d="M-0.445,-0.853 L-0.431,-0.815 L-0.390,-0.813 L-0.422,-0.787 L-0.411,-0.748 L-0.445,-0.771 L-0.479,-0.748 L-0.468,-0.787 L-0.500,-0.813 L-0.459,-0.815Z" fill="#fff"/><path d="M-0.195,-0.853 L-0.181,-0.815 L-0.140,-0.813 L-0.172,-0.787 L-0.161,-0.748 L-0.195,-0.771 L-0.229,-0.748 L-0.218,-0.787 L-0.250,-0.813 L-0.209,-0.815Z" fill="#fff"/><path d="M-0.820,-0.743 L-0.806,-0.705 L-0.765,-0.703 L-0.797,-0.677 L-0.786,-0.638 L-0.820,-0.661 L-0.854,-0.638 L-0.843,-0.677 L-0.875,-0.703 L-0.834,-0.705Z" fill="#fff"/><path d="M-0.570,-0.743 L-0.556,-0.705 L-0.515,-0.703 L-0.547,-0.677 L-0.536,-0.638 L-0.570,-0.661 L-0.604,-0.638 L-0.593,-0.677 L-0.625,-0.703 L-0.584,-0.705Z" fill="#fff"/><path d="M-0.320,-0.743 L-0.306,-0.705 L-0.265,-0.703 L-0.297,-0.677 L-0.286,-0.638 L-0.320,-0.661 L-0.354,-0.638 L-0.343,-0.677 L-0.375,-0.703 L-0.334,-0.705Z" fill="#fff"/><path d="M-0.070,-0.743 L-0.056,-0.705 L-0.015,-0.703 L-0.047,-0.677 L-0.036,-0.638 L-0.070,-0.661 L-0.104,-0.638 L-0.093,-0.677 L-0.125,-0.703 L-0.084,-0.705Z" fill="#fff"/><path d="M-0.695,-0.633 L-0.681,-0.595 L-0.640,-0.593 L-0.672,-0.567 L-0.661,-0.528 L-0.695,-0.551 L-0.729,-0.528 L-0.718,-0.567 L-0.750,-0.593 L-0.709,-0.595Z" fill="#fff"/><path d="M-0.445,-0.633 L-0.431,-0.595 L-0.390,-0.593 L-0.422,-0.567 L-0.411,-0.528 L-0.445,-0.551 L-0.479,-0.528 L-0.468,-0.567 L-0.500,-0.593 L-0.459,-0.595Z" fill="#fff"/><path d="M-0.195,-0.633 L-0.181,-0.595 L-0.140,-0.593 L-0.172,-0.567 L-0.161,-0.528 L-0.195,-0.551 L-0.229,-0.528 L-0.218,-0.567 L-0.250,-0.593 L-0.209,-0.595Z" fill="#fff"/><path d="M-0.820,-0.523 L-0.806,-0.485 L-0.765,-0.483 L-0.797,-0.457 L-0.786,-0.418 L-0.820,-0.441 L-0.854,-0.418 L-0.843,-0.457 L-0.875,-0.483 L-0.834,-0.485Z" fill="#fff"/><path d="M-0.570,-0.523 L-0.556,-0.485 L-0.515,-0.483 L-0.547,-0.457 L-0.536,-0.418 L-0.570,-0.441 L-0.604,-0.418 L-0.593,-0.457 L-0.625,-0.483 L-0.584,-0.485Z" fill="#fff"/><path d="M-0.320,-0.523 L-0.306,-0.485 L-0.265,-0.483 L-0.297,-0.457 L-0.286,-0.418 L-0.320,-0.441 L-0.354,-0.418 L-0.343,-0.457 L-0.375,-0.483 L-0.334,-0.485Z" fill="#fff"/><path d="M-0.070,-0.523 L-0.056,-0.485 L-0.015,-0.483 L-0.047,-0.457 L-0.036,-0.418 L-0.070,-0.441 L-0.104,-0.418 L-0.093,-0.457 L-0.125,-0.483 L-0.084,-0.485Z" fill="#fff"/><path d="M-0.695,-0.413 L-0.681,-0.375 L-0.640,-0.373 L-0.672,-0.347 L-0.661,-0.308 L-0.695,-0.331 L-0.729,-0.308 L-0.718,-0.347 L-0.750,-0.373 L-0.709,-0.375Z" fill="#fff"/><path d="M-0.445,-0.413 L-0.431,-0.375 L-0.390,-0.373 L-0.422,-0.347 L-0.411,-0.308 L-0.445,-0.331 L-0.479,-0.308 L-0.468,-0.347 L-0.500,-0.373 L-0.459,-0.375Z" fill="#fff"/><path d="M-0.195,-0.413 L-0.181,-0.375 L-0.140,-0.373 L-0.172,-0.347 L-0.161,-0.308 L-0.195,-0.331 L-0.229,-0.308 L-0.218,-0.347 L-0.250,-0.373 L-0.209,-0.375Z" fill="#fff"/><path d="M-0.820,-0.303 L-0.806,-0.265 L-0.765,-0.263 L-0.797,-0.237 L-0.786,-0.198 L-0.820,-0.221 L-0.854,-0.198 L-0.843,-0.237 L-0.875,-0.263 L-0.834,-0.265Z" fill="#fff"/><path d="M-0.570,-0.303 L-0.556,-0.265 L-0.515,-0.263 L-0.547,-0.237 L-0.536,-0.198 L-0.570,-0.221 L-0.604,-0.198 L-0.593,-0.237 L-0.625,-0.263 L-0.584,-0.265Z" fill="#fff"/><path d="M-0.320,-0.303 L-0.306,-0.265 L-0.265,-0.263 L-0.297,-0.237 L-0.286,-0.198 L-0.320,-0.221 L-0.354,-0.198 L-0.343,-0.237 L-0.375,-0.263 L-0.334,-0.265Z" fill="#fff"/><path d="M-0.070,-0.303 L-0.056,-0.265 L-0.015,-0.263 L-0.047,-0.237 L-0.036,-0.198 L-0.070,-0.221 L-0.104,-0.198 L-0.093,-0.237 L-0.125,-0.263 L-0.084,-0.265Z" fill="#fff"/><path d="M-0.695,-0.193 L-0.681,-0.155 L-0.640,-0.153 L-0.672,-0.127 L-0.661,-0.088 L-0.695,-0.111 L-0.729,-0.088 L-0.718,-0.127 L-0.750,-0.153 L-0.709,-0.155Z" fill="#fff"/><path d="M-0.445,-0.193 L-0.431,-0.155 L-0.390,-0.153 L-0.422,-0.127 L-0.411,-0.088 L-0.445,-0.111 L-0.479,-0.088 L-0.468,-0.127 L-0.500,-0.153 L-0.459,-0.155Z" fill="#fff"/><path d="M-0.195,-0.193 L-0.181,-0.155 L-0.140,-0.153 L-0.172,-0.127 L-0.161,-0.088 L-0.195,-0.111 L-0.229,-0.088 L-0.218,-0.127 L-0.250,-0.153 L-0.209,-0.155Z" fill="#fff"/><path d="M-0.820,-0.083 L-0.806,-0.045 L-0.765,-0.043 L-0.797,-0.017 L-0.786,0.022 L-0.820,-0.001 L-0.854,0.022 L-0.843,-0.017 L-0.875,-0.043 L-0.834,-0.045Z" fill="#fff"/><path d="M-0.570,-0.083 L-0.556,-0.045 L-0.515,-0.043 L-0.547,-0.017 L-0.536,0.022 L-0.570,-0.001 L-0.604,0.022 L-0.593,-0.017 L-0.625,-0.043 L-0.584,-0.045Z" fill="#fff"/><path d="M-0.320,-0.083 L-0.306,-0.045 L-0.265,-0.043 L-0.297,-0.017 L-0.286,0.022 L-0.320,-0.001 L-0.354,0.022 L-0.343,-0.017 L-0.375,-0.043 L-0.334,-0.045Z" fill="#fff"/><path d="M-0.070,-0.083 L-0.056,-0.045 L-0.015,-0.043 L-0.047,-0.017 L-0.036,0.022 L-0.070,-0.001 L-0.104,0.022 L-0.093,-0.017 L-0.125,-0.043 L-0.084,-0.045Z" fill="#fff"/><circle cx="0" cy="0" r="1" fill="url(#sh)"/><circle cx="0" cy="0" r="1" fill="url(#hl)"/><path d="M-1 -1H1V-0.25C0.6 -0.27 0.45 -0.29 0.25 -0.27C-0.05 -0.24 -0.15 0.02 -0.45 0.02H-1Z" fill="url(#gl)"/></g><circle cx="0" cy="0" r="0.985" fill="none" stroke="#000" stroke-opacity="0.35" stroke-width="0.035"/><circle cx="0" cy="0" r="0.93" fill="none" stroke="#fff" stroke-opacity="0.2" stroke-width="0.03"/></g><g transform="translate(851.4,610.1) scale(33.3)"><circle cx="0" cy="0.06" r="1.08" fill="url(#ds)"/><g clip-path="url(#cu)"><rect x="-1" y="-1" width="2" height="2" fill="#d9262c"/><circle cx="-0.33" cy="0" r="0.45" fill="#fff"/><circle cx="-0.2" cy="0" r="0.365" fill="#d9262c"/><path d="M0.060,0.010 L0.199,-0.042 L0.205,-0.190 L0.297,-0.074 L0.440,-0.113 L0.358,0.010 L0.440,0.133 L0.297,0.094 L0.205,0.210 L0.199,0.062Z" fill="#fff"/><circle cx="0" cy="0" r="1" fill="url(#sh)"/><circle cx="0" cy="0" r="1" fill="url(#hl)"/><path d="M-1 -1H1V-0.25C0.6 -0.27 0.45 -0.29 0.25 -0.27C-0.05 -0.24 -0.15 0.02 -0.45 0.02H-1Z" fill="url(#gl)"/></g><circle cx="0" cy="0" r="0.985" fill="none" stroke="#000" stroke-opacity="0.35" stroke-width="0.035"/><circle cx="0" cy="0" r="0.93" fill="none" stroke="#fff" stroke-opacity="0.2" stroke-width="0.03"/></g><g transform="translate(959.4,606.9) scale(33.2)"><circle cx="0" cy="0.06" r="1.08" fill="url(#ds)"/><g clip-path="url(#cu)"><rect x="-1" y="-1" width="2" height="0.640" fill="#f4f4f4"/><rect x="-1" y="-0.36" width="2" height="0.670" fill="#1d5fae"/><rect x="-1" y="0.31" width="2" height="1" fill="#d9262c"/><circle cx="0" cy="0" r="1" fill="url(#sh)"/><circle cx="0" cy="0" r="1" fill="url(#hl)"/><path d="M-1 -1H1V-0.25C0.6 -0.27 0.45 -0.29 0.25 -0.27C-0.05 -0.24 -0.15 0.02 -0.45 0.02H-1Z" fill="url(#gl)"/></g><circle cx="0" cy="0" r="0.985" fill="none" stroke="#000" stroke-opacity="0.35" stroke-width="0.035"/><circle cx="0" cy="0" r="0.93" fill="none" stroke="#fff" stroke-opacity="0.2" stroke-width="0.03"/></g>
</svg></body></html>
